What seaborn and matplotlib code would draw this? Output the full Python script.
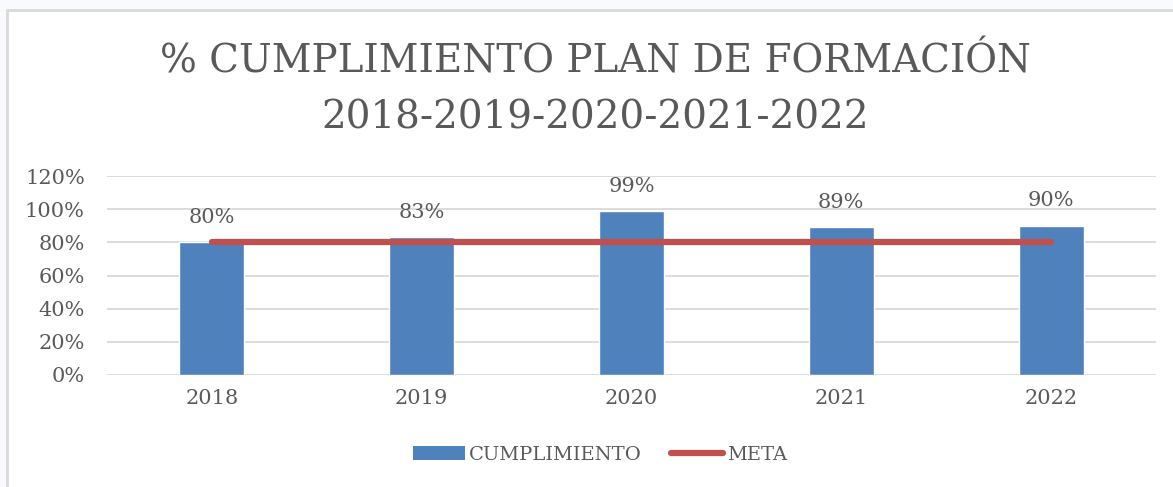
import matplotlib
matplotlib.use("Agg")
import matplotlib.pyplot as plt
from matplotlib.patches import Patch, Rectangle
from matplotlib.lines import Line2D
import seaborn as sns
import pandas as pd
import numpy as np

years = ["2018", "2019", "2020", "2021", "2022"]
cumplimiento = [80, 83, 99, 89, 90]
meta = [80, 80, 80, 80, 80]
title = "% CUMPLIMIENTO PLAN DE FORMACIÓN\n2018-2019-2020-2021-2022"

blue = "#4F81BD"
red = "#C0504D"
grey = "#595959"

sns.set_style("white")
plt.rcParams["font.family"] = ["DejaVu Serif"]

W, H = 1173, 487
fig = plt.figure(figsize=(W / 100, H / 100), dpi=100)
fig.patch.set_facecolor("#F8FAFD")
# chart frame
fig.add_artist(Rectangle((7 / W, -0.01), 1.02, (H - 10) / H + 0.01,
                         transform=fig.transFigure, facecolor="white",
                         edgecolor="#D9D9D9", linewidth=2, zorder=0))

ax = fig.add_axes([107 / W, 1 - 375 / H, (1156 - 107) / W, (375 - 176) / H])
ax.set_facecolor("none")

df = pd.DataFrame({"year": years, "value": cumplimiento})
sns.barplot(data=df, x="year", y="value", color=blue, width=0.31,
            saturation=1, ax=ax, zorder=2)
ax.plot(np.arange(len(years)), meta, color=red, linewidth=4.5,
        solid_capstyle="round", zorder=3)

ax.bar_label(ax.containers[0], labels=[f"{v}%" for v in cumplimiento],
             padding=11, fontsize=15, color=grey)

ax.set_xlim(-0.5, len(years) - 0.5)
ax.set_ylim(0, 120)
ax.set_yticks(range(0, 121, 20))
ax.set_yticklabels([f"{t}%" for t in range(0, 121, 20)])
ax.yaxis.grid(True, color="#D9D9D9", linewidth=1.3, zorder=0)
ax.set_axisbelow(True)
for s in ax.spines.values():
    s.set_visible(False)
ax.tick_params(axis="both", length=0, labelsize=15, labelcolor=grey)
ax.tick_params(axis="y", pad=16)
ax.tick_params(axis="x", pad=10)
ax.set_xlabel("")
ax.set_ylabel("")

fig.text(595 / W, 1 - 90 / H, title, ha="center", va="center",
         fontsize=28, color=grey, linespacing=1.66)

handles = [Patch(facecolor=blue, edgecolor="none"),
           Line2D([0], [0], color=red, linewidth=4.5, solid_capstyle="round")]
fig.legend(handles, ["CUMPLIMIENTO", "META"], loc="center", ncol=2,
           bbox_to_anchor=(600 / W, 1 - 455 / H), frameon=False,
           fontsize=14, labelcolor=grey, handlelength=2.7, handletextpad=0.2,
           columnspacing=1.5)

fig.savefig("out.png", dpi=100, facecolor=fig.get_facecolor())
